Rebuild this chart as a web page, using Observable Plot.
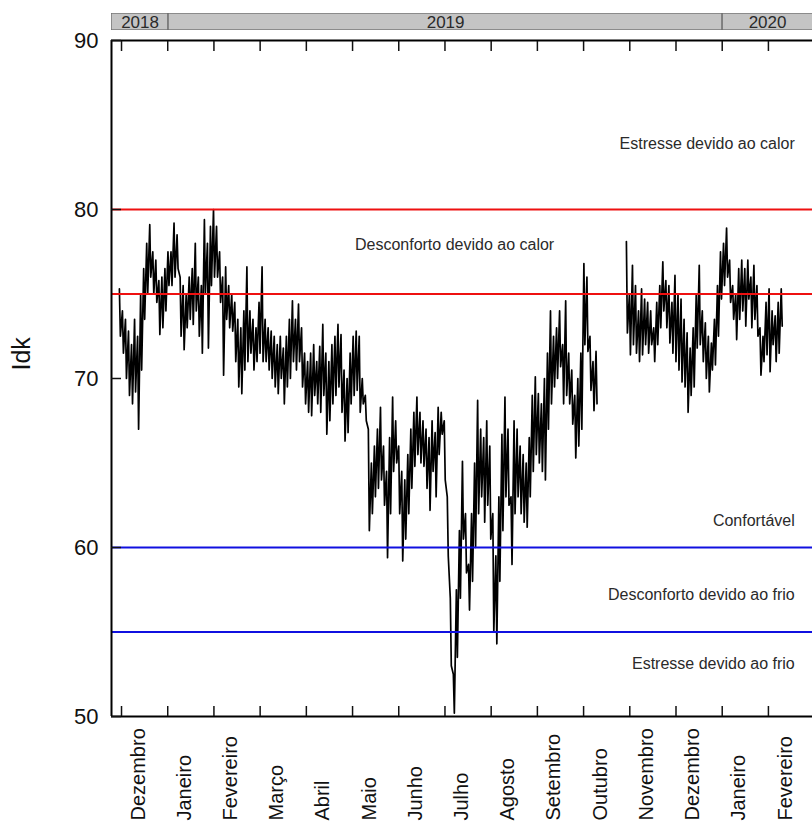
<!DOCTYPE html>
<html>
<head>
<meta charset="utf-8">
<script src="https://cdn.jsdelivr.net/npm/d3@7"></script>
<script src="https://cdn.jsdelivr.net/npm/@observablehq/plot@0.6"></script>
<style>
  body { margin: 0; background: #fff; }
  #chart svg { display: block; }
</style>
</head>
<body>
<div id="chart"></div>
<script>
// ---- Data ----
// Idk daily envelope, one pair per 2-day step starting 2018-11-29 (null = no data)
const startDate = "2018-11-29";
const stepDays = 2;
const idkHigh = [
  // Nov 29 - Dec 31 2018
  75.3, 74.0, 73.5, 72.8, 72.0, 73.5, 72.5, 75.0, 76.5, 78.0, 79.1, 77.5, 77.0, 75.8, 76.0, 76.5, 77.5,
  // Jan 2019
  77.5, 79.2, 78.5, 76.0, 75.5, 75.0, 76.0, 76.5, 78.0, 76.0, 75.5, 79.4, 78.0, 79.0, 80.0,
  // Feb
  79.0, 77.5, 76.0, 76.6, 75.5, 75.0, 74.5, 73.5, 73.0, 74.0, 76.6, 74.0, 73.5, 73.0,
  // Mar
  74.5, 76.6, 73.5, 73.0, 72.8, 72.5, 72.0, 72.5, 71.8, 72.5, 73.5, 74.6, 73.5, 74.4, 73.0, 71.5,
  // Apr
  71.0, 71.5, 72.0, 71.0, 71.9, 73.2, 71.5, 71.0, 72.0, 72.5, 73.2, 72.6, 70.5, 70.0, 71.5,
  // May
  72.5, 72.8, 72.5, 70.0, 69.0, 67.0, 65.0, 66.0, 67.0, 68.3, 66.0, 64.5, 66.5, 68.9, 67.5,
  // Jun
  66.0, 64.5, 64.0, 65.5, 67.0, 68.0, 68.9, 68.0, 67.5, 67.0, 66.5, 67.5, 66.8, 68.3, 68.0,
  // Jul
  67.5, 63.0, 57.0, 52.5, 57.5, 61.0, 65.1, 62.0, 59.0, 62.0, 65.0, 68.7, 67.0, 66.5, 67.5, 66.0,
  // Aug
  62.0, 59.5, 63.0, 66.7, 68.9, 67.0, 63.0, 67.5, 67.0, 66.0, 65.5, 65.0, 66.5, 69.0, 70.1,
  // Sep
  69.1, 68.5, 70.0, 71.5, 74.0, 72.5, 73.0, 74.0, 72.0, 74.6, 71.5, 70.5, 69.0, 70.0, 71.5,
  // Oct
  76.8, 76.0, 72.5, 71.0, 71.6, null, null, null, null, null, null, null, null, null, 78.1, 75.0,
  // Nov
  76.7, 75.5, 74.0, 75.3, 74.7, 74.5, 74.0, 73.0, 74.5, 75.5, 76.9, 75.8, 75.5, 74.5, 76.1,
  // Dec
  75.0, 74.7, 73.5, 72.7, 71.8, 73.0, 75.0, 76.7, 74.0, 73.3, 72.5, 72.1, 73.5, 75.5, 77.5,
  // Jan 2020
  78.0, 78.9, 77.0, 75.5, 75.0, 76.5, 77.0, 76.5, 77.0, 76.0, 76.7, 75.5, 73.0, 72.5, 74.5,
  // Feb 2020
  75.3, 74.0, 73.7, 74.5, 75.3
];
const idkLow = [
  72.5, 71.5, 70.0, 69.0, 68.5, 69.2, 67.0, 70.5, 73.5, 75.0, 76.0, 75.0, 74.5, 72.6, 73.0, 74.0, 75.5,
  75.5, 76.0, 76.5, 72.5, 71.7, 73.0, 73.5, 73.2, 74.0, 72.5, 71.5, 75.0, 71.8, 75.5, 76.0,
  76.0, 74.5, 70.2, 73.5, 73.0, 72.8, 71.0, 69.5, 69.1, 70.5, 71.0, 71.5, 70.5, 71.0,
  71.5, 71.0, 71.0, 70.5, 70.0, 69.5, 69.1, 70.0, 68.5, 69.5, 70.0, 71.0, 70.5, 71.0, 69.5, 68.5,
  68.0, 67.8, 69.0, 68.5, 68.0, 69.0, 66.7, 67.5, 68.5, 69.0, 69.5, 68.0, 66.3, 66.8, 68.5,
  69.0, 69.3, 68.0, 68.5, 67.5, 61.0, 62.0, 63.0, 63.5, 64.0, 62.5, 59.4, 62.0, 64.5, 65.0,
  62.0, 59.2, 60.5, 62.0, 63.5, 64.8, 65.5, 65.0, 64.8, 63.5, 62.2, 64.5, 63.0, 65.5, 66.7,
  64.0, 59.5, 53.0, 50.2, 53.5, 57.0, 60.5, 58.5, 56.3, 58.0, 60.0, 62.0, 63.0, 61.5, 62.5, 60.5,
  55.0, 54.3, 58.0, 61.0, 63.0, 62.5, 59.0, 62.0, 63.0, 62.0, 61.5, 61.2, 63.0, 64.5, 65.5,
  65.0, 64.5, 64.0, 67.0, 68.5, 69.5, 70.0, 70.7, 68.5, 69.0, 68.5, 67.3, 65.3, 66.0, 67.0,
  72.0, 71.6, 69.3, 68.1, 68.5, null, null, null, null, null, null, null, null, null, 72.7, 71.4,
  72.0, 71.5, 71.0, 71.4, 72.0, 71.5, 72.0, 71.0, 72.0, 73.0, 74.0, 73.0, 72.1, 71.5, 71.0,
  70.5, 69.8, 69.5, 68.0, 69.0, 69.5, 71.8, 72.0, 71.0, 70.0, 69.2, 70.5, 70.8, 72.5, 74.7,
  75.5, 76.0, 74.5, 73.5, 72.3, 73.5, 74.0, 73.1, 74.7, 73.0, 73.5, 72.5, 70.2, 71.0, 71.4,
  70.4, 72.0, 71.0, 71.5, 73.1
];

const monthNames = ["Dezembro", "Janeiro", "Fevereiro", "Março", "Abril", "Maio", "Junho", "Julho",
  "Agosto", "Setembro", "Outubro", "Novembro", "Dezembro", "Janeiro", "Fevereiro"];
const years = [2018, 2019, 2020];
const yTicks = [50, 60, 70, 80, 90];
const heatLines = [80, 75];
const coldLines = [60, 55];
const zoneLabels = ["Estresse devido ao calor", "Confortável", "Desconforto devido ao frio", "Estresse devido ao frio"];
const zoneLabelValues = [83.9, 61.6, 57.2, 53.1];
const centerLabel = "Desconforto devido ao calor";
const centerLabelValue = 77.9;

// ---- Build ----
const DAY = 864e5;
const t0 = Date.parse(startDate + "T00:00:00Z");
const xDomain = [new Date(t0 - 4.6 * DAY), new Date(t0 + 457.2 * DAY)];

const points = [];
idkHigh.forEach((h, i) => {
  const base = t0 + i * stepDays * DAY;
  points.push({date: new Date(base + 0.6 * DAY), value: h == null ? NaN : h});
  const l = idkLow[i];
  points.push({date: new Date(base + 1.25 * DAY), value: l == null ? NaN : l});
});

const firstTick = Date.UTC(2018, 11, 1);
const monthLen = 30.44 * DAY;
const tickDates = d3.range(monthNames.length).map(k => new Date(firstTick + k * monthLen));
const monthRows = monthNames.map((name, k) => ({name, mid: new Date(firstTick + (k + 0.5) * monthLen)}));

const yearRows = years.map(y => {
  const s = Math.max(Date.UTC(y, 0, 1), +xDomain[0]);
  const e = Math.min(Date.UTC(y + 1, 0, 1), +xDomain[1] + 20 * DAY);
  const ve = Math.min(e, +xDomain[1]);
  return {year: String(y), start: new Date(s), end: new Date(e), mid: new Date((s + ve) / 2)};
});

const font = "'Liberation Sans', Arial, Helvetica, sans-serif";
const W = 812;

const band = Plot.plot({
  width: W, height: 31,
  marginTop: 13, marginBottom: 1, marginLeft: 111, marginRight: 0,
  style: {fontFamily: font, background: "#fff", color: "#222"},
  x: {type: "utc", domain: xDomain, axis: null},
  marks: [
    Plot.rect(yearRows, {x1: "start", x2: "end", fill: "#c4c4c4", stroke: "#6e6e6e", strokeWidth: 1.3, clip: true}),
    Plot.text(yearRows, {x: "mid", text: "year", frameAnchor: "middle", fontSize: 17, fill: "#2a2a2a", dy: 1})
  ]
});

const main = Plot.plot({
  width: W, height: 792,
  marginTop: 9, marginBottom: 107, marginLeft: 111, marginRight: 0,
  style: {fontFamily: font, background: "transparent", color: "#111", overflow: "visible"},
  x: {type: "utc", domain: xDomain},
  y: {domain: [50, 90]},
  marks: [
    Plot.line(points, {x: "date", y: "value", stroke: "#000", strokeWidth: 1.7}),
    Plot.ruleY(heatLines, {stroke: "#ee1010", strokeWidth: 2}),
    Plot.ruleY(coldLines, {stroke: "#1010e0", strokeWidth: 2}),
    Plot.ruleY([90], {stroke: "#000", strokeWidth: 2}),
    Plot.ruleY([50], {stroke: "#000", strokeWidth: 2}),
    Plot.ruleX([xDomain[0]], {stroke: "#000", strokeWidth: 2}),
    Plot.axisY({ticks: yTicks, tickSize: -10, tickPadding: 23, fontSize: 22, strokeWidth: 1.5, label: null}),
    Plot.axisX({anchor: "bottom", ticks: tickDates, tickSize: -10, tickFormat: () => "", strokeWidth: 1.5, label: null}),
    Plot.axisX({anchor: "top", ticks: tickDates, tickSize: -10, tickFormat: () => "", strokeWidth: 1.5, label: null}),
    Plot.text(monthRows, {x: "mid", text: "name", frameAnchor: "bottom", dy: 104, rotate: -90, textAnchor: "start", fontSize: 20, fill: "#111"}),
    Plot.text(["Idk"], {text: d => d, frameAnchor: "left", dx: -90, dy: -8, rotate: -90, fontSize: 25, fill: "#111"}),
    Plot.text(zoneLabels, {x: () => new Date(t0 + 445.5 * DAY), y: (d, i) => zoneLabelValues[i], text: d => d, textAnchor: "end", fontSize: 16, fill: "#2a2a2a"}),
    Plot.text([centerLabel], {x: () => new Date(t0 + 221.4 * DAY), y: () => centerLabelValue, text: d => d, fontSize: 16, fill: "#2a2a2a"})
  ]
});

const chart = document.getElementById("chart");
chart.appendChild(band);
chart.appendChild(main);
</script>
</body>
</html>
